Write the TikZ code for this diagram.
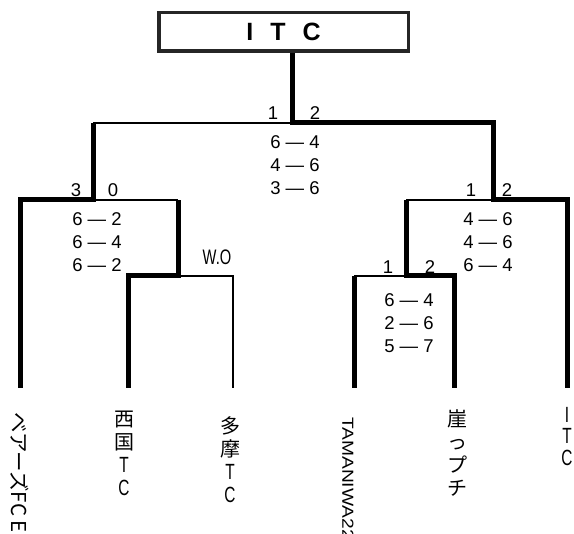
\documentclass[tikz,border=0pt]{standalone}
\usepackage{fontspec}
\setmainfont{Liberation Sans}
\newfontfamily\jpfont{Noto Sans CJK JP}
\newfontfamily\narrowfont[FakeStretch=0.7]{Liberation Sans}
\newfontfamily\widefont[FakeStretch=1.2]{Liberation Sans}
\newcommand\nar[1]{{\narrowfont\fontsize{22}{23}\selectfont #1}}
\usetikzlibrary{positioning,calc}

\begin{document}
\begin{tikzpicture}[x=1pt,y=-1pt,
  win/.style={line width=5pt},
  lose/.style={line width=1.3pt},
  digits/.style={font=\fontsize{18.5}{23}\selectfont,inner sep=0pt},
  score/.style={digits,align=center},
  walkover/.style={font=\narrowfont\fontsize{21}{21}\selectfont,inner sep=0pt},
  team/.style={font=\jpfont\fontsize{20}{23}\selectfont,align=center,anchor=north,inner sep=0pt},
  sideways/.style={rotate=-90,anchor=west,inner sep=0pt}]
  \useasboundingbox (0,0) rectangle (574,534);
  \node[draw=black!85,line width=3.5pt,minimum width=249.5pt,minimum height=38.5pt,
    font=\bfseries\fontsize{25}{25}\selectfont] (champ) at (283.5,32) {\spaceskip=17pt I T C};
  \coordinate (f)  at (292,123);
  \coordinate (sl) at (93,200);
  \coordinate (sr) at (493,200);
  \coordinate (ql) at (178,276);
  \coordinate (qr) at (406,276);
  \coordinate (bears)    at (20,388);
  \coordinate (nishi)    at (128,388);
  \coordinate (tama)     at (233,388);
  \coordinate (tamaniwa) at (354,388);
  \coordinate (gake)     at (454,388);
  \coordinate (itc)      at (567,388);
  \draw[lose] (f) -- (sl |- f);
  \draw[lose] (sl) -- (ql |- sl);
  \draw[lose] (tama) |- (ql);
  \draw[lose] (sr) -- (qr |- sr);
  \draw[lose] (qr) -- (tamaniwa |- qr);
  \draw[win] (champ.south -| f) -- (f) -| (sr) -| (itc);
  \draw[win] (bears) |- (sl) -- (sl |- f);
  \draw[win] (nishi) |- (ql) -- (ql |- sl);
  \draw[win] (gake) |- (qr) -- (qr |- sr);
  \draw[win] (tamaniwa |- qr) -- (tamaniwa);
  \node[digits] (f1) at (273,113) {1};
  \node[digits] (f2) at (315,113) {2};
  \node[score] (fs) at (295,165) {6 — 4\\4 — 6\\3 — 6};
  \node[digits] (sl1) at (76,190) {3};
  \node[digits] (sl2) at (113,190) {0};
  \node[score] (sls) at (97,242) {6 — 2\\6 — 4\\6 — 2};
  \node[walkover] (wo) at (217,257) {W.O};
  \node[digits] (sr1) at (471,190) {1};
  \node[digits] (sr2) at (507,190) {2};
  \node[score] (srs) at (488,242) {4 — 6\\4 — 6\\6 — 4};
  \node[digits] (qr1) at (388,267) {1};
  \node[digits] (qr2) at (430,267) {2};
  \node[score] (qrs) at (409,323) {6 — 4\\2 — 6\\5 — 7};
  \node[sideways,font=\jpfont\fontsize{20.5}{20.5}\selectfont] (bearsname) at (20,412) {ベアーズFC E};
  \node[team] (nishiname) at (124,411) {西\\国\\\nar{T}\\\nar{C}};
  \node[team] (tamaname) at (230,416) {多\\摩\\\nar{T}\\\nar{C}};
  \node[sideways,font=\widefont\fontsize{16}{16}\selectfont] (tamaniwaname) at (348,417) {TAMANIWA22};
  \node[team] (gakename) at (457,409) {崖\\っ\\プ\\チ};
  \node[team,font=\fontsize{20}{21.5}\selectfont] (itcname) at (567,407) {\nar{I}\\\nar{T}\\\nar{C}};
\end{tikzpicture}
\end{document}
